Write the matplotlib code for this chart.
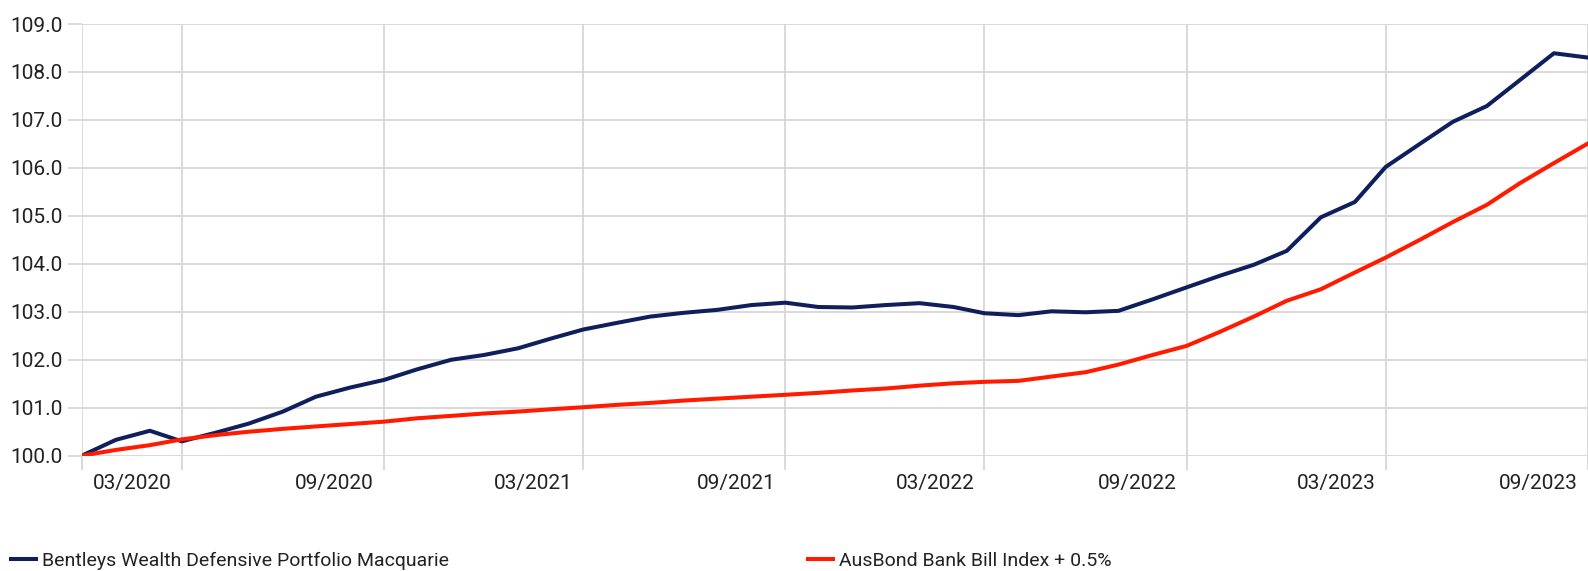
import pandas as pd
import matplotlib
matplotlib.use("Agg")
import matplotlib.pyplot as plt
import matplotlib.ticker as mticker
import matplotlib.transforms as mtransforms

plt.rcParams["font.family"] = ["Roboto", "DejaVu Sans"]

# ── Data: monthly index values, 12/2019 .. 09/2023 ───────────────────────────
MONTHS = pd.date_range("2019-12-01", "2023-09-01", freq="MS")

PORTFOLIO = [
    100.00, 100.33, 100.52, 100.30, 100.48, 100.67, 100.92, 101.23, 101.42, 101.58,
    101.80, 102.00, 102.10, 102.24, 102.45, 102.63, 102.77, 102.90, 102.98, 103.04,
    103.14, 103.19, 103.10, 103.09, 103.14, 103.18, 103.10, 102.97, 102.93, 103.01,
    102.99, 103.02, 103.26, 103.51, 103.75, 103.98, 104.27, 104.97, 105.29, 106.02,
    106.50, 106.96, 107.29, 107.83, 108.39, 108.30,
]
BENCHMARK = [
    100.00, 100.12, 100.22, 100.34, 100.43, 100.50, 100.56, 100.61, 100.66, 100.71,
    100.78, 100.83, 100.88, 100.92, 100.97, 101.01, 101.06, 101.10, 101.15, 101.19,
    101.23, 101.27, 101.31, 101.36, 101.40, 101.46, 101.51, 101.54, 101.56, 101.65,
    101.74, 101.90, 102.10, 102.29, 102.58, 102.90, 103.23, 103.47, 103.82, 104.13,
    104.50, 104.87, 105.23, 105.68, 106.10, 106.51,
]
LABELS = ["Bentleys Wealth Defensive Portfolio Macquarie", "AusBond Bank Bill Index + 0.5%"]
Y_TICKS = [100, 101, 102, 103, 104, 105, 106, 107, 108, 109]

C_PORT = "#0f1f5c"
C_BENCH = "#ff1a00"
C_GRID = "#d9d9d9"
C_TEXT = "#222222"

fig = plt.figure(figsize=(15.88, 5.71), dpi=100)
ax = fig.add_axes([81.7 / 1588, 115.3 / 571, 1 - 81.7 / 1588, 431.7 / 571])

l1, = ax.plot(MONTHS, PORTFOLIO, color=C_PORT, linewidth=2.9, label=LABELS[0], zorder=3)
l2, = ax.plot(MONTHS, BENCHMARK, color=C_BENCH, linewidth=2.9, label=LABELS[1], zorder=3)

ax.set_xlim(MONTHS[0], MONTHS[-1])
ax.set_ylim(100, 109)

# ticks: first month + every March / September
xticks = [MONTHS[0]] + [m for m in MONTHS if m.month in (3, 9)]
ax.set_xticks(xticks)
ax.set_xticklabels([""] + [m.strftime("%m/%Y") for m in xticks[1:]])
ax.set_yticks(Y_TICKS)
ax.yaxis.set_major_formatter(mticker.FormatStrFormatter("%.1f"))

for s in ax.spines.values():
    s.set_visible(False)
ax.grid(True, color=C_GRID, linewidth=1.4, zorder=0)
ax.tick_params(axis="both", length=10, width=1.4, color=C_GRID,
               labelsize=15, labelcolor=C_TEXT)
ax.tick_params(axis="x", pad=3)
ax.tick_params(axis="y", pad=3.5)

# x labels sit just left of their gridline
shift = mtransforms.ScaledTranslation(-0.10, 0, fig.dpi_scale_trans)
for lab in ax.get_xticklabels():
    lab.set_horizontalalignment("right")
    lab.set_transform(lab.get_transform() + shift)

leg_kw = dict(frameon=False, fontsize=14, handlelength=1.3, handletextpad=0.3,
              loc="center left", borderaxespad=0, borderpad=0)
leg1 = fig.legend(handles=[l1], bbox_to_anchor=(11 / 1588, 1 - 561 / 571), **leg_kw)
leg2 = fig.legend(handles=[l2], bbox_to_anchor=(808 / 1588, 1 - 561 / 571), **leg_kw)
for leg in (leg1, leg2):
    for t in leg.get_texts():
        t.set_color(C_TEXT)

fig.savefig("out.png", dpi=100)
